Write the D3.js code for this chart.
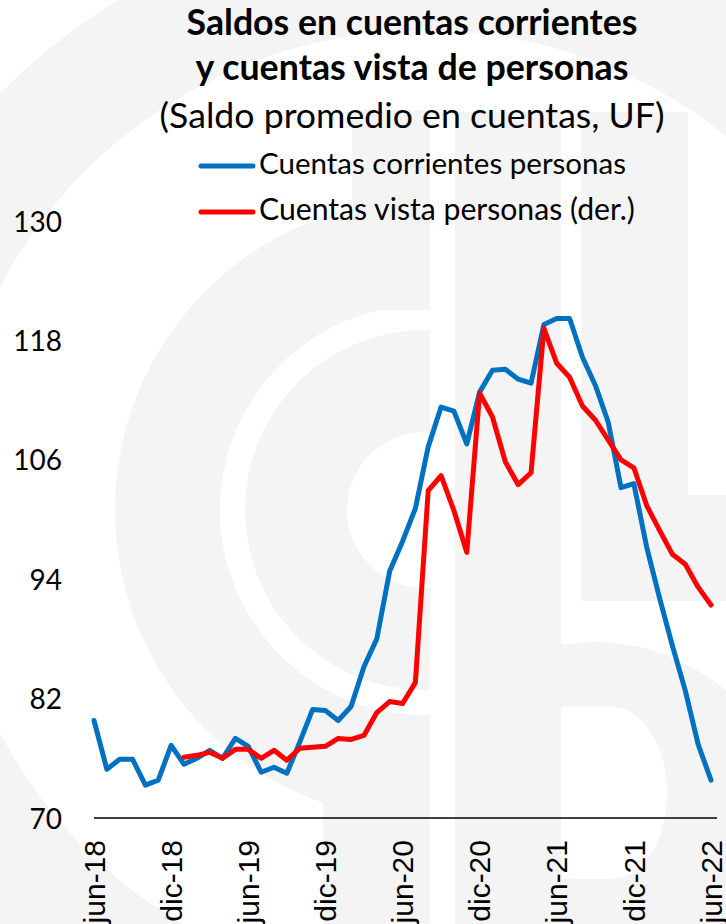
<!DOCTYPE html>
<html>
<head>
<meta charset="utf-8">
<script src="https://cdnjs.cloudflare.com/ajax/libs/d3/7.8.5/d3.min.js"></script>
<style>
  body { margin: 0; background: #fff; }
  svg { display: block; }
</style>
</head>
<body>
<div id="chart"></div>
<script>
// months, jun-18 .. jun-22
var months = ['jun-18','jul-18','ago-18','sep-18','oct-18','nov-18','dic-18',
  'ene-19','feb-19','mar-19','abr-19','may-19','jun-19','jul-19','ago-19','sep-19','oct-19','nov-19','dic-19',
  'ene-20','feb-20','mar-20','abr-20','may-20','jun-20','jul-20','ago-20','sep-20','oct-20','nov-20','dic-20',
  'ene-21','feb-21','mar-21','abr-21','may-21','jun-21','jul-21','ago-21','sep-21','oct-21','nov-21','dic-21',
  'ene-22','feb-22','mar-22','abr-22','may-22','jun-22'];

var tickLabels = ['jun-18','dic-18','jun-19','dic-19','jun-20','dic-20','jun-21','dic-21','jun-22'];
var yTicks = [70, 82, 94, 106, 118, 130];

// Cuentas corrientes personas
var corrientes = [79.8, 74.9, 75.9, 75.9, 73.3, 73.8, 77.3,
  75.4, 76.0, 76.8, 76.0, 78.0, 77.2, 74.6, 75.1, 74.5, 77.6, 80.9, 80.8,
  79.8, 81.2, 85.2, 88.0, 94.8, 97.8, 101.1, 107.3, 111.3, 110.9, 107.6, 112.8,
  115.0, 115.1, 114.1, 113.7, 119.6, 120.2, 120.2, 116.3, 113.5, 109.8, 103.2, 103.6,
  97.2, 92.1, 87.3, 82.8, 77.4, 73.8];

// Cuentas vista personas (der.) - starts ene-19
var vista = [null, null, null, null, null, null, null,
  76.1, 76.3, 76.6, 76.0, 76.9, 76.9, 76.0, 76.8, 75.8, 77.0, 77.1, 77.2,
  78.0, 77.9, 78.3, 80.6, 81.7, 81.5, 83.6, 102.9, 104.4, 100.9, 96.7, 112.7,
  110.3, 105.8, 103.5, 104.7, 119.2, 115.7, 114.3, 111.4, 110.0, 108.0, 106.0, 105.2,
  101.4, 98.9, 96.5, 95.5, 93.2, 91.4];

var seriesNames = ['Cuentas corrientes personas', 'Cuentas vista personas (der.)'];
var seriesColors = ['#0070c0', '#ff0000'];

var width = 726, height = 924;
var svg = d3.select('#chart').append('svg')
    .attr('width', width)
    .attr('height', height);

// faint logo in background
var wm = svg.append('g').attr('fill', '#f4f4f4');
svg.append('clipPath').attr('id', 'leftclip')
  .append('rect').attr('x', 0).attr('y', 0).attr('width', 430).attr('height', height);
var ring = d3.arc().startAngle(0).endAngle(2 * Math.PI);
wm.append('path').attr('transform', 'translate(425,510)')
  .attr('d', ring.innerRadius(480).outerRadius(595)());
var leftRings = wm.append('g').attr('clip-path', 'url(#leftclip)');
leftRings.append('path').attr('transform', 'translate(425,510)')
  .attr('d', ring.innerRadius(205).outerRadius(310)());
leftRings.append('path').attr('transform', 'translate(425,510)')
  .attr('d', ring.innerRadius(78).outerRadius(180)());
wm.append('rect').attr('x', 352).attr('y', 110).attr('width', 78).attr('height', 200);
wm.append('rect').attr('x', 323).attr('y', 715).attr('width', 107).attr('height', 209);
wm.append('rect').attr('x', 455).attr('y', 112).attr('width', 106).attr('height', 812);
wm.append('rect').attr('x', 581).attr('y', 112).attr('width', 107).attr('height', 489);
wm.append('rect').attr('x', 688).attr('y', 495).attr('width', 38).attr('height', 106);
wm.append('path').attr('d', 'M561,645 Q650,630 726,690 V924 H561 Z');
wm.append('path').attr('fill', '#fff')
  .attr('d', 'M561,707 H612 A55,86 0 0 1 612,879 H561 Z');

var x = d3.scalePoint().domain(months).range([94, 711]);
var y = d3.scaleLinear().domain([70, 130]).range([818, 221]);
// right axis (der.) shares the same span
var yRight = d3.scaleLinear().domain([70, 130]).range([818, 221]);

// titles
var title = svg.append('g').attr('text-anchor', 'middle').attr('fill', '#000');
function fitWidth(sel, w) {
  var fs = parseFloat(sel.attr('font-size'));
  var len = sel.node().getComputedTextLength();
  sel.attr('font-size', (fs * w / len).toFixed(2));
}
var t1 = title.append('text').attr('x', 412).attr('y', 35)
  .attr('font-family', 'Lato, sans-serif').attr('font-weight', 'bold').attr('font-size', 33)
  .text('Saldos en cuentas corrientes');
fitWidth(t1, 451);
var t2 = title.append('text').attr('x', 412).attr('y', 80)
  .attr('font-family', 'Lato, sans-serif').attr('font-weight', 'bold').attr('font-size', 33)
  .text('y cuentas vista de personas');
fitWidth(t2, 433);
var t3 = title.append('text').attr('x', 412).attr('y', 128)
  .attr('font-family', 'Lato, sans-serif').attr('font-size', 33)
  .text('(Saldo promedio en cuentas, UF)');
fitWidth(t3, 505);

// legend
var legend = svg.append('g');
var legendWidths = [367, 376];
seriesNames.forEach(function(name, i) {
  var ly = 166 + i * 46;
  legend.append('line')
    .attr('x1', 201).attr('x2', 253).attr('y1', ly).attr('y2', ly)
    .attr('stroke', seriesColors[i]).attr('stroke-width', 5).attr('stroke-linecap', 'round');
  var lt = legend.append('text')
    .attr('x', 259).attr('y', ly + 7.5)
    .attr('font-family', 'Lato, sans-serif').attr('font-size', 29)
    .attr('fill', '#000')
    .text(name);
  fitWidth(lt, legendWidths[i]);
});

// y axis labels (no axis line)
var yAxis = svg.append('g')
  .attr('transform', 'translate(62,0)')
  .call(d3.axisLeft(y).tickValues(yTicks).tickSize(0).tickPadding(0));
yAxis.select('.domain').remove();
yAxis.selectAll('text')
  .attr('font-family', 'Lato, sans-serif').attr('font-size', 28)
  .attr('fill', '#000').attr('dy', '0.36em');

// x axis
var xAxis = svg.append('g')
  .attr('transform', 'translate(0,818)')
  .call(d3.axisBottom(x).tickValues(tickLabels).tickSize(0).tickPadding(0));
xAxis.select('.domain').remove();
svg.append('line')
  .attr('x1', 94).attr('x2', 717).attr('y1', 818).attr('y2', 818)
  .attr('stroke', '#000').attr('stroke-width', 1.4);
xAxis.selectAll('text')
  .attr('font-family', '"Liberation Sans", Arial, sans-serif').attr('font-size', 30)
  .attr('fill', '#000')
  .attr('text-anchor', 'end')
  .attr('transform', 'translate(0,22) rotate(-90)')
  .attr('x', 0).attr('y', 0).attr('dy', '0.34em');

// lines
var lineL = d3.line()
  .defined(function(d) { return d.v != null; })
  .x(function(d) { return x(d.m); })
  .y(function(d) { return y(d.v); });
var lineR = d3.line()
  .defined(function(d) { return d.v != null; })
  .x(function(d) { return x(d.m); })
  .y(function(d) { return yRight(d.v); });

svg.append('path')
  .datum(months.map(function(m, i) { return {m: m, v: corrientes[i]}; }))
  .attr('fill', 'none').attr('stroke', seriesColors[0]).attr('stroke-width', 5)
  .attr('stroke-linejoin', 'round').attr('stroke-linecap', 'round')
  .attr('d', lineL);

svg.append('path')
  .datum(months.map(function(m, i) { return {m: m, v: vista[i]}; }))
  .attr('fill', 'none').attr('stroke', seriesColors[1]).attr('stroke-width', 5)
  .attr('stroke-linejoin', 'round').attr('stroke-linecap', 'round')
  .attr('d', lineR);
</script>
</body>
</html>
